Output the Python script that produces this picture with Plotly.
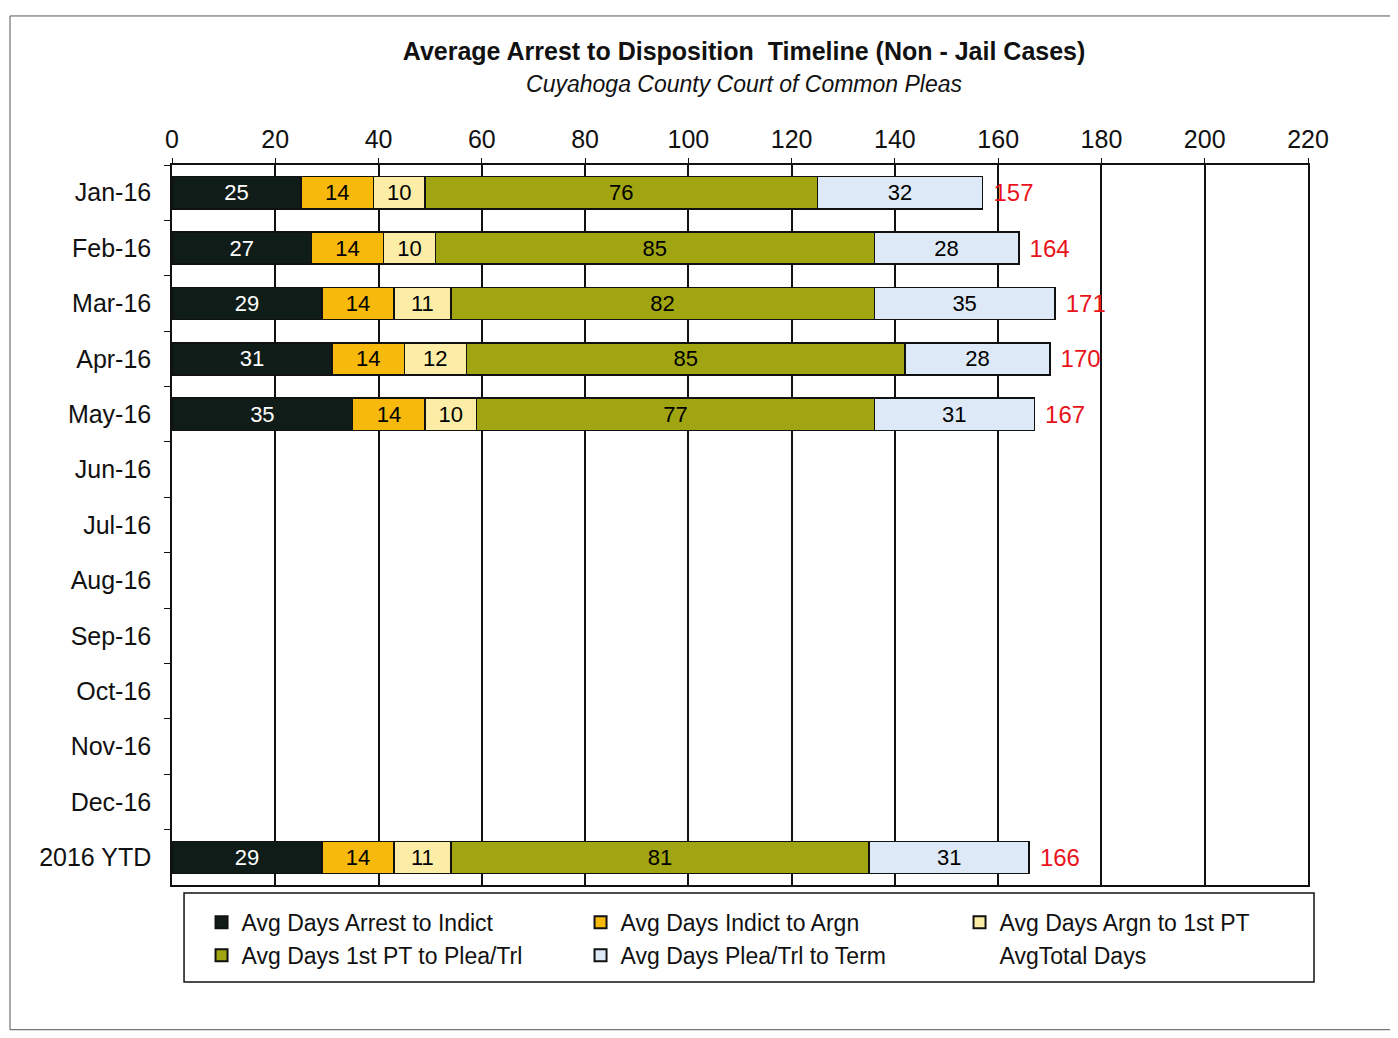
import plotly.graph_objects as go

categories = ["Jan-16", "Feb-16", "Mar-16", "Apr-16", "May-16", "Jun-16", "Jul-16",
              "Aug-16", "Sep-16", "Oct-16", "Nov-16", "Dec-16", "2016 YTD"]
arrest_to_indict = [25, 27, 29, 31, 35, None, None, None, None, None, None, None, 29]
indict_to_argn = [14, 14, 14, 14, 14, None, None, None, None, None, None, None, 14]
argn_to_1st_pt = [10, 10, 11, 12, 10, None, None, None, None, None, None, None, 11]
pt_to_plea = [76, 85, 82, 85, 77, None, None, None, None, None, None, None, 81]
plea_to_term = [32, 28, 35, 28, 31, None, None, None, None, None, None, None, 31]
total_days = [157, 164, 171, 170, 167, None, None, None, None, None, None, None, 166]
x_ticks = [0, 20, 40, 60, 80, 100, 120, 140, 160, 180, 200, 220]

series = [
    ("Avg Days Arrest to Indict", arrest_to_indict, "#101c18", "white"),
    ("Avg Days Indict to Argn", indict_to_argn, "#f6b90c", "black"),
    ("Avg Days Argn to 1st PT", argn_to_1st_pt, "#fbeda6", "black"),
    ("Avg Days 1st PT to Plea/Trl", pt_to_plea, "#a1a512", "black"),
    ("Avg Days Plea/Trl to Term", plea_to_term, "#dde9f6", "black"),
]

FONT = "Liberation Sans, Arial, sans-serif"
fig = go.Figure()
for name, vals, color, tcolor in series:
    fig.add_trace(go.Bar(
        y=categories, x=vals, name=name, orientation="h",
        marker=dict(color=color, line=dict(color="#111111", width=1.5)),
        text=[("" if v is None else str(v)) for v in vals],
        textposition="inside", insidetextanchor="middle", textangle=0,
        textfont=dict(size=22, color=tcolor, family=FONT),
        constraintext="none", hoverinfo="skip",
    ))

# invisible gap + invisible stacked segment carrying the total labels
gap_space = [None if t is None else 1.5 for t in total_days]
fig.add_trace(go.Bar(
    y=categories, x=gap_space, orientation="h", showlegend=False,
    marker=dict(color="rgba(0,0,0,0)", line=dict(width=0)), hoverinfo="skip",
))
label_space = [None if t is None else 22 for t in total_days]
fig.add_trace(go.Bar(
    y=categories, x=label_space, name="AvgTotal Days", orientation="h",
    marker=dict(color="rgba(0,0,0,0)", line=dict(width=0)),
    text=[("" if t is None else str(t)) for t in total_days],
    textposition="inside", insidetextanchor="start", textangle=0,
    textfont=dict(size=24, color="#e8141c", family=FONT),
    constraintext="none", hoverinfo="skip",
))

fig.update_layout(
    width=1398, height=1038,
    barmode="stack", bargap=0.42,
    paper_bgcolor="white", plot_bgcolor="white",
    margin=dict(l=164, r=98, t=157, b=161),
    font=dict(family=FONT, color="#111111"),
    title=dict(
        text="<b>Average Arrest to Disposition  Timeline (Non - Jail Cases)</b><br>"
             "<span style='font-size:23px'><i>Cuyahoga County Court of Common Pleas</i></span>",
        x=0.5265, xanchor="center", y=0.95, yanchor="top",
        font=dict(size=25, family=FONT, color="#111111"),
    ),
    xaxis=dict(
        side="top", range=[0, 220], tickvals=x_ticks,
        showgrid=True, gridcolor="#111111", gridwidth=1.5,
        showline=True, linecolor="#111111", linewidth=1.5, mirror=True,
        ticks="outside", ticklen=5, tickcolor="#111111",
        tickfont=dict(size=25, family=FONT, color="#111111"), zeroline=False,
    ),
    yaxis=dict(
        autorange="reversed", type="category", tickson="boundaries",
        showline=True, linecolor="#111111", linewidth=1.5, mirror=True,
        ticks="outside", ticklen=6, tickcolor="#111111", ticklabelstandoff=14,
        tickfont=dict(size=25, family=FONT, color="#111111"), showgrid=False,
    ),
    legend=dict(
        orientation="h", x=0.026, xanchor="left", y=-0.022, yanchor="top",
        borderwidth=0, bgcolor="rgba(0,0,0,0)",
        font=dict(size=23, family=FONT, color="#111111"),
        entrywidth=334, entrywidthmode="pixels", traceorder="normal",
        itemsizing="constant",
    ),
    shapes=[
        dict(type="rect", xref="paper", yref="paper",
             x0=0.0106, x1=1.0053, y0=-0.1347, y1=-0.0111,
             line=dict(color="#111111", width=1.5), layer="below"),
        dict(type="rect", xref="paper", yref="paper",
             x0=-0.1426, x1=1.12, y0=-0.201, y1=1.207,
             line=dict(color="#555555", width=1)),
    ],
)

fig.write_html("out.html")
